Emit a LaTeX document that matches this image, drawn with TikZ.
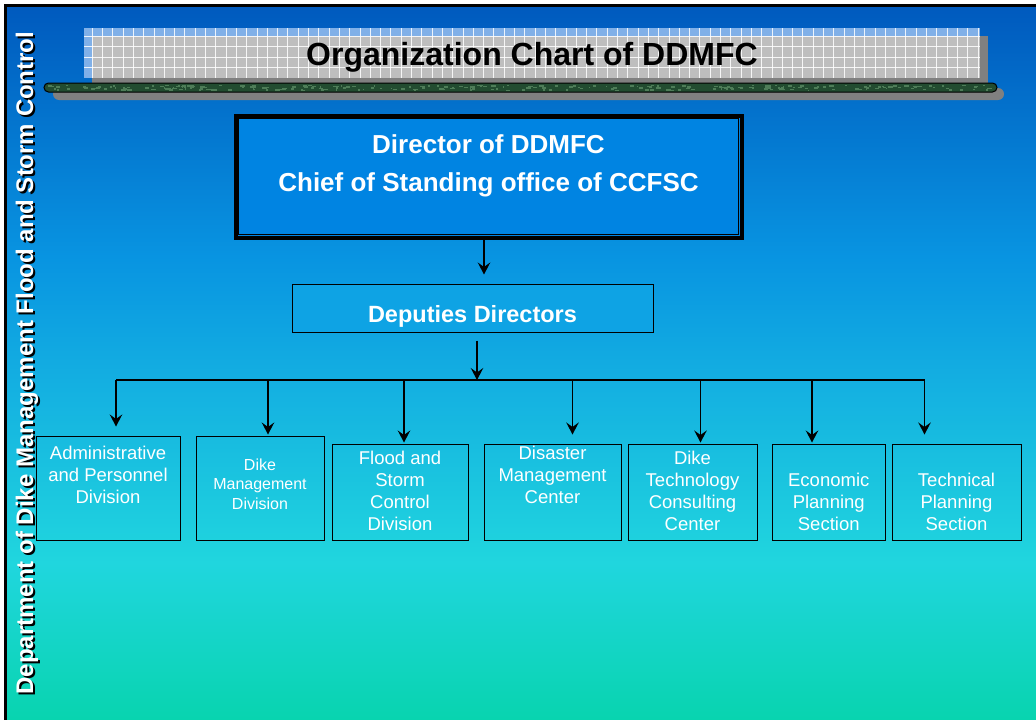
\documentclass[tikz,border=0pt]{standalone}
\usepackage{fontspec}
\setmainfont{Liberation Sans}
\usepackage{tikz}
\usetikzlibrary{arrows.meta,calc,positioning}
\definecolor{bgTop}{RGB}{0,90,190}
\definecolor{bgUpper}{RGB}{8,148,225}
\definecolor{bgMid}{RGB}{20,176,225}
\definecolor{bgLower}{RGB}{32,214,222}
\definecolor{bgBottom}{RGB}{8,212,175}
\definecolor{dirBlue}{RGB}{0,132,226}
\definecolor{depBlue}{RGB}{14,163,228}
\definecolor{bannerGray}{RGB}{190,190,190}
\definecolor{bannerBlue}{RGB}{128,176,232}
\definecolor{shadowGray}{RGB}{128,128,128}
\definecolor{barGreen}{RGB}{34,76,48}
\definecolor{barSpeck}{RGB}{78,125,88}
\pgfdeclareverticalshading{slidebg}{100bp}{color(0bp)=(bgBottom); color(25bp)=(bgBottom); color(36bp)=(bgLower); color(48.5bp)=(bgMid); color(57.5bp)=(bgUpper); color(75bp)=(bgTop); color(100bp)=(bgTop)}
\pgfdeclarelayer{bg}
\pgfdeclarelayer{shadow}
\pgfsetlayers{bg,shadow,main}
\tikzset{
  >=Stealth,
  link/.style={draw,line width=1.3pt,-{Stealth[length=12pt,width=12.5pt,inset=4.5pt]}},
  wire/.style={draw,line width=1.3pt},
  banner/.style={fill=bannerGray,minimum width=896pt,minimum height=50pt,inner sep=0,font=\bfseries\fontsize{32}{38}\selectfont,text height=24pt,text depth=0pt,
    path picture={
      \fill[bannerBlue] (path picture bounding box.north west) rectangle ([yshift=-8pt]path picture bounding box.north east);
      \fill[bannerBlue] (path picture bounding box.north west) rectangle ([xshift=8pt]path picture bounding box.south west);
      \foreach \i in {0,...,86}
        \draw[white,line width=0.5pt,opacity=0.85] ([xshift=8pt+\i*10.3pt]path picture bounding box.north west) -- ([xshift=8pt+\i*10.3pt]path picture bounding box.south west);
      \foreach \j in {0,...,3}
        \draw[white,line width=0.5pt,opacity=0.85] ([yshift=-8pt-\j*10.5pt]path picture bounding box.north west) -- ([yshift=-8pt-\j*10.5pt]path picture bounding box.north east);
    }},
  chief/.style={draw,line width=4pt,fill=dirBlue,minimum width=506pt,minimum height=122pt,align=center,text=white,font=\bfseries\fontsize{26}{38}\selectfont,text height=29.6pt,text depth=0pt},
  deputy/.style={draw,line width=1pt,fill=depBlue,minimum width=361pt,minimum height=48pt,text=white,font=\bfseries\fontsize{23.5}{28}\selectfont,text height=28pt,text depth=0pt},
  unit/.style={draw,line width=1pt,minimum height=96pt,align=center,text=white,font=\fontsize{18.5}{22}\selectfont,text height=#1,text depth=0pt},
  sidelabel/.style={rotate=90,anchor=base,inner sep=0,text=white,font=\bfseries\fontsize{24}{28}\selectfont},
}
\begin{document}
\begin{tikzpicture}[x=1pt,y=-1pt]
  \useasboundingbox (0,0) rectangle (1036,720);
  \begin{pgfonlayer}{bg}
    \fill[white] (0,0) rectangle (1036,720);
    \shade[shading=slidebg] (7,7) rectangle (1036,720);
  \end{pgfonlayer}
  \draw[line width=3pt] (5.5,720) -- (5.5,5.5) -- (1036,5.5);

  % title banner
  \node (title) [banner] at (532,53) {Organization Chart of DDMFC};
  \begin{pgfonlayer}{shadow}
    \fill[shadowGray] ([shift={(8pt,-8pt)}]title.north west) rectangle ([shift={(8pt,-8pt)}]title.south east);
  \end{pgfonlayer}
  \fill[shadowGray,rounded corners=6pt] (53,88) rectangle (1004,100);
  \draw[fill=barGreen,line width=1pt,rounded corners=4.5pt] (44,83) rectangle (997,92);
  \pgfmathsetseed{7}
  \foreach \k in {1,...,260}{
    \pgfmathsetmacro\sx{48+940*rnd}
    \pgfmathsetmacro\sy{84.6+5*rnd}
    \pgfmathsetmacro\sw{1+4*rnd}
    \fill[barSpeck] (\sx,\sy) rectangle ++(\sw,1.6);
  }

  % side title
  \node (sideshadow) [sidelabel,text=black] at (35,365) {Department of Dike Management Flood and Storm Control};
  \node (side) [sidelabel] at (33,363) {Department of Dike Management Flood and Storm Control};

  % chart
  \node (chief) [chief] at (488.5,176.5) {Director of DDMFC\\Chief of Standing office of CCFSC};
  \draw[line width=1pt] ([shift={(5pt,-5pt)}]chief.north west) rectangle ([shift={(-5pt,5pt)}]chief.south east);
  \node (deputies) [deputy] at (472.5,308) {Deputies Directors};

  \node (admin) [unit=31.2pt,minimum width=144pt,minimum height=104pt] at (108,488) {Administrative\\and Personnel\\Division};
  \node (dikemgmt) [unit=42pt,minimum width=128pt,minimum height=104pt,font=\fontsize{16}{19.5}\selectfont] at (260,488) {Dike\\Management\\Division};
  \node (flood) [unit=76.6pt,minimum width=136pt] at (400,492) {Flood and\\Storm\\Control\\Division};
  \node (disaster) [unit=22.6pt,minimum width=137pt] at (552.5,492) {Disaster\\Management\\Center};
  \node (diketech) [unit=76.6pt,minimum width=129pt] at (692.5,492) {Dike\\Technology\\Consulting\\Center};
  \node (econ) [unit=77.4pt,minimum width=112.5pt] at (828.75,492) {Economic\\Planning\\Section};
  \node (techplan) [unit=77.4pt,minimum width=129pt] at (956.5,492) {Technical\\Planning\\Section};

  \coordinate (chiefout) at ([xshift=-4.5pt]chief.south);
  \coordinate (bus) at (477,380);
  \coordinate (busleft) at (116,380);
  \coordinate (busright) at (924.5,380);
  \draw[link,shorten >=9pt] (chiefout) -- (chiefout |- deputies.north);
  \draw[link,shorten <=8pt] (bus |- deputies.south) -- (bus);
  \draw[wire] (busleft) -- (busright);
  \foreach \unit/\dx/\gap in {admin/116/9pt,dikemgmt/268/1pt,flood/404/1pt,disaster/572.5/9pt,diketech/700.5/1pt,econ/812/1pt,techplan/924.5/9pt}
    \draw[link,shorten >=\gap] (\dx,0 |- bus) -- (\dx,0 |- \unit.north);
\end{tikzpicture}
\end{document}
